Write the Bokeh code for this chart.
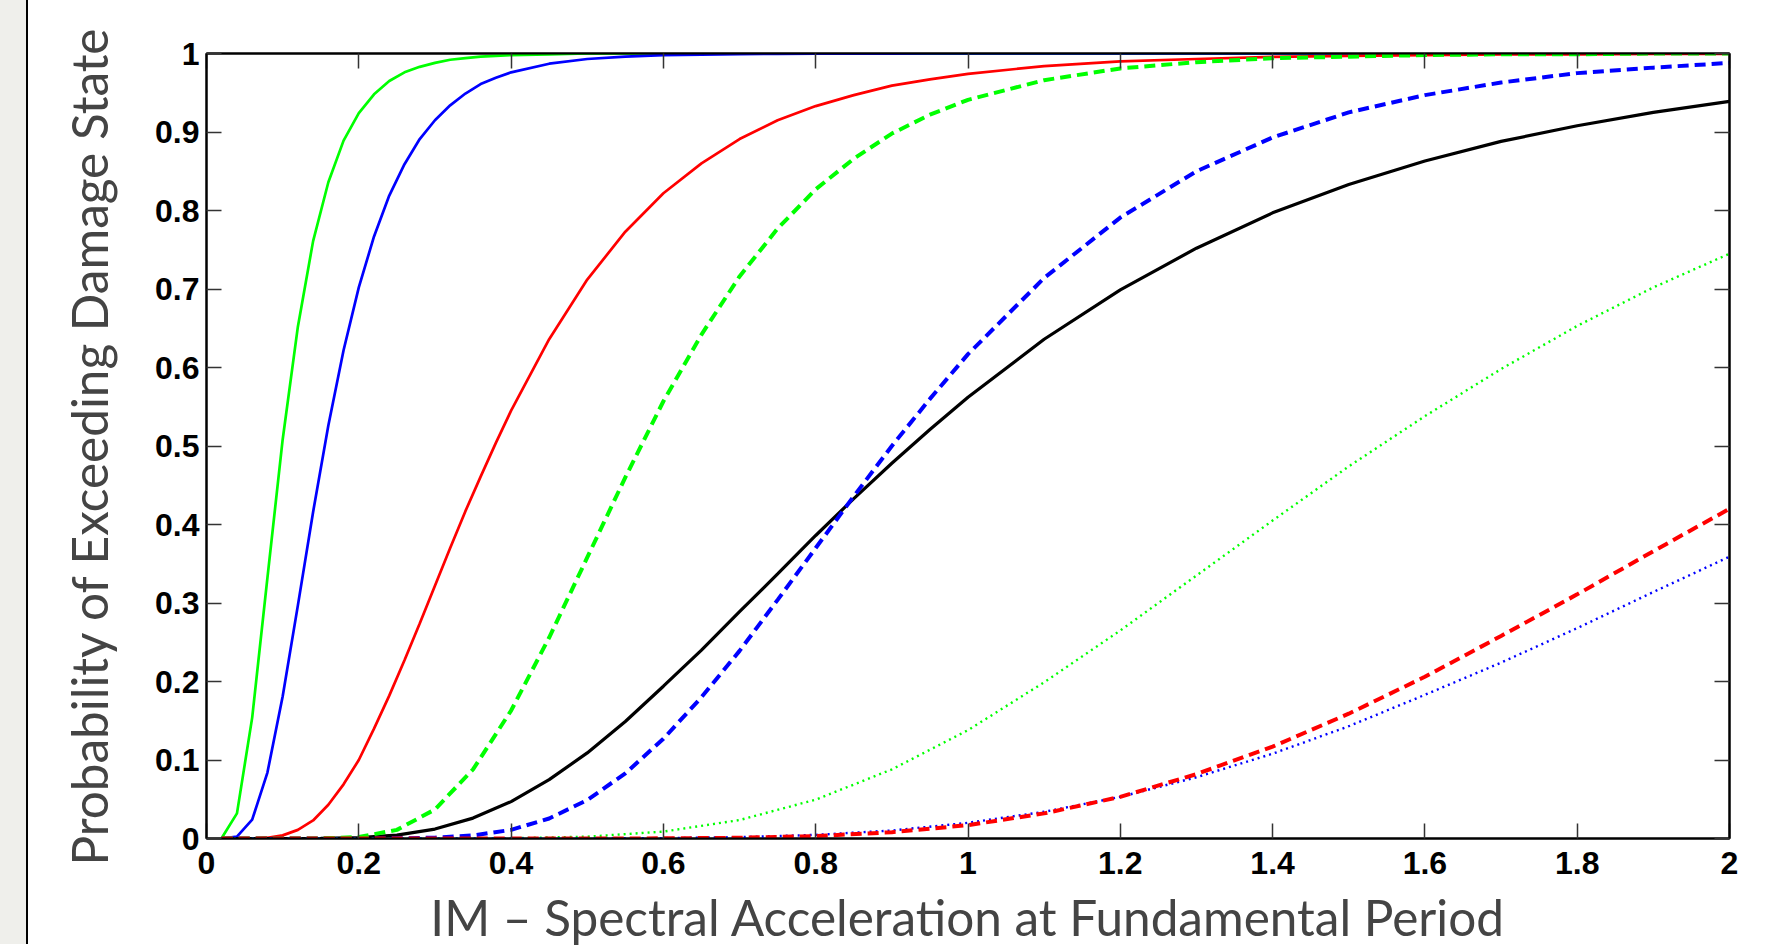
from bokeh.plotting import figure
from bokeh.models import FixedTicker, LinearAxis, Range1d, Div, CustomJSTickFormatter
from bokeh.layouts import row
from bokeh.embed import file_html
from bokeh.resources import INLINE

# ---------------- data ----------------
x_fine = [0.02, 0.04, 0.06, 0.08, 0.10, 0.12, 0.14, 0.16, 0.18, 0.20, 0.22, 0.24, 0.26,
          0.28, 0.30, 0.32, 0.34, 0.36, 0.38, 0.40, 0.45, 0.50, 0.55, 0.60, 0.65, 0.70,
          0.75, 0.80, 0.85, 0.90, 0.95, 1.00, 1.10, 1.20, 1.30, 1.40, 1.50, 1.60, 1.70,
          1.80, 1.90, 2.00]
green_solid = [0.0006, 0.032, 0.154, 0.332, 0.508, 0.652, 0.761, 0.836, 0.889, 0.924, 0.948,
               0.965, 0.976, 0.983, 0.988, 0.992, 0.994, 0.996, 0.997, 0.998, 0.999, 1.0,
               1.0, 1.0, 1.0, 1.0, 1.0, 1.0, 1.0, 1.0, 1.0, 1.0, 1.0, 1.0, 1.0, 1.0, 1.0,
               1.0, 1.0, 1.0, 1.0, 1.0]
blue_solid = [0.0, 0.0024, 0.024, 0.084, 0.181, 0.297, 0.416, 0.526, 0.622, 0.702, 0.767,
              0.819, 0.859, 0.891, 0.915, 0.934, 0.949, 0.961, 0.969, 0.976, 0.987, 0.993,
              0.996, 0.998, 0.9986, 0.9992, 0.9995, 0.9997, 0.9998, 0.9999, 1.0, 1.0, 1.0,
              1.0, 1.0, 1.0, 1.0, 1.0, 1.0, 1.0, 1.0, 1.0]
red_solid = [0.0, 0.0, 0.0001, 0.001, 0.004, 0.011, 0.023, 0.043, 0.069, 0.100, 0.140,
             0.182, 0.227, 0.274, 0.322, 0.370, 0.417, 0.461, 0.504, 0.545, 0.636, 0.712,
             0.773, 0.822, 0.860, 0.891, 0.915, 0.933, 0.947, 0.959, 0.967, 0.974, 0.984,
             0.990, 0.993, 0.9956, 0.997, 0.998, 0.9987, 0.999, 0.9994, 0.9996]

x_mid = [0.02, 0.10, 0.15, 0.20, 0.25, 0.30, 0.35, 0.40, 0.45, 0.50, 0.55, 0.60, 0.65, 0.70,
         0.75, 0.80, 0.85, 0.90, 0.95, 1.00, 1.10, 1.20, 1.30, 1.40, 1.50, 1.60, 1.70, 1.80,
         1.90, 2.00]
green_dashed = [0.0, 0.0, 0.0001, 0.0018, 0.011, 0.037, 0.088, 0.163, 0.256, 0.358, 0.460,
                0.557, 0.642, 0.716, 0.777, 0.827, 0.866, 0.898, 0.922, 0.941, 0.966, 0.981,
                0.989, 0.994, 0.996, 0.998, 0.999, 0.999, 1.0, 1.0]
blue_dashed = [0.0, 0.0, 0.0, 0.0, 0.0002, 0.001, 0.0039, 0.011, 0.0255, 0.049, 0.083,
               0.127, 0.180, 0.239, 0.304, 0.370, 0.436, 0.500, 0.560, 0.617, 0.714, 0.791,
               0.850, 0.893, 0.925, 0.947, 0.963, 0.975, 0.982, 0.988]
black_solid = [0.0, 0.0, 0.0001, 0.001, 0.0044, 0.012, 0.026, 0.047, 0.075, 0.109, 0.149,
               0.194, 0.240, 0.289, 0.337, 0.386, 0.433, 0.478, 0.521, 0.562, 0.636, 0.699,
               0.752, 0.797, 0.833, 0.863, 0.888, 0.908, 0.925, 0.939]

x_wide = [0.02, 0.30, 0.40, 0.50, 0.60, 0.70, 0.80, 0.90, 1.00, 1.10, 1.20, 1.30, 1.40, 1.50,
          1.60, 1.70, 1.80, 1.90, 2.00]
green_dotted = [0.0, 0.0, 0.0003, 0.0023, 0.0088, 0.0235, 0.0495, 0.088, 0.138, 0.199, 0.265,
                0.335, 0.405, 0.474, 0.538, 0.598, 0.653, 0.702, 0.745]
red_dashed = [0.0, 0.0, 0.0, 0.0, 0.0002, 0.0009, 0.0031, 0.008, 0.017, 0.032, 0.053, 0.082,
              0.117, 0.159, 0.206, 0.258, 0.311, 0.366, 0.420]
blue_dotted = [0.0, 0.0, 0.0, 0.0001, 0.0005, 0.0017, 0.0046, 0.0102, 0.020, 0.034, 0.053,
               0.078, 0.108, 0.143, 0.183, 0.224, 0.268, 0.314, 0.359]

x_ticks = [0, 0.2, 0.4, 0.6, 0.8, 1.0, 1.2, 1.4, 1.6, 1.8, 2.0]
x_tick_labels = ["0", "0.2", "0.4", "0.6", "0.8", "1", "1.2", "1.4", "1.6", "1.8", "2"]
y_ticks = [0, 0.1, 0.2, 0.3, 0.4, 0.5, 0.6, 0.7, 0.8, 0.9, 1.0]
y_tick_labels = ["0", "0.1", "0.2", "0.3", "0.4", "0.5", "0.6", "0.7", "0.8", "0.9", "1"]

x_label = "IM \u2013 Spectral Acceleration at Fundamental Period"
y_label = "Probability of Exceeding Damage State"

# ---------------- figure ----------------
p = figure(frame_width=1523, frame_height=785, output_backend="svg", toolbar_location=None,
           x_range=Range1d(0, 2), y_range=Range1d(0, 1),
           min_border_left=173, min_border_right=40, min_border_top=61, min_border_bottom=20)
p.background_fill_color = "white"
p.border_fill_color = "white"
p.outline_line_color = "black"
p.outline_line_width = 2
p.grid.visible = False

TICK_FONT = "Liberation Sans"
LABEL_FONT = "Lato"

def style_axis(ax, ticks, labels, show_labels):
    ax.ticker = FixedTicker(ticks=ticks)
    ax.major_tick_in = 15
    ax.major_tick_out = 0
    ax.minor_tick_in = 0
    ax.minor_tick_out = 0
    ax.major_tick_line_color = "#333333"
    ax.major_tick_line_width = 1.5
    ax.axis_line_color = "black"
    ax.axis_line_width = 2
    ax.major_label_text_font = TICK_FONT
    ax.major_label_text_font_style = "bold"
    ax.major_label_text_font_size = "32px"
    ax.major_label_text_color = "black"
    if show_labels:
        ax.major_label_overrides = {t: l for t, l in zip(ticks, labels)}
    else:
        ax.formatter = CustomJSTickFormatter(code="return '';")
        ax.major_label_standoff = 0

xa = p.xaxis[0]
style_axis(xa, x_ticks, x_tick_labels, True)
xa.major_label_standoff = 13
xa.axis_label = x_label
xa.axis_label_text_font = LABEL_FONT
xa.axis_label_text_font_style = "normal"
xa.axis_label_text_font_size = "49.5px"
xa.axis_label_standoff = 10

ya = p.yaxis[0]
style_axis(ya, y_ticks, y_tick_labels, True)
ya.major_label_standoff = 7
ya.axis_label = y_label
ya.axis_label_text_font = LABEL_FONT
ya.axis_label_text_font_style = "normal"
ya.axis_label_text_font_size = "49.5px"
ya.axis_label_standoff = 33

top = LinearAxis()
style_axis(top, x_ticks, x_tick_labels, False)
p.add_layout(top, "above")
right = LinearAxis()
style_axis(right, y_ticks, y_tick_labels, False)
p.add_layout(right, "right")

GREEN, BLUE, RED = "#00ff00", "#0000ff", "#ff0000"
p.line(x_fine, green_solid, line_color=GREEN, line_width=2.7)
p.line(x_fine, blue_solid, line_color=BLUE, line_width=2.7)
p.line(x_fine, red_solid, line_color=RED, line_width=2.7)
p.line(x_mid, black_solid, line_color="black", line_width=3.2)
p.line(x_mid, blue_dashed, line_color=BLUE, line_width=4, line_dash="11 6")
p.line(x_mid, green_dashed, line_color=GREEN, line_width=4, line_dash="11 6")
p.line(x_wide, green_dotted, line_color=GREEN, line_width=2.4, line_dash="2 4")
p.line(x_wide, blue_dotted, line_color=BLUE, line_width=2.4, line_dash="2 4")
p.line(x_wide, red_dashed, line_color=RED, line_width=4, line_dash="11 6")

strip = Div(text="", width=31, height=947,
            styles={"background-color": "#efefeb", "border-right": "2px solid black",
                    "box-sizing": "border-box"})

layout = row(strip, p, spacing=0, margin=(-8, -8, -8, -8))
open("out.html", "w").write(file_html(layout, INLINE))
